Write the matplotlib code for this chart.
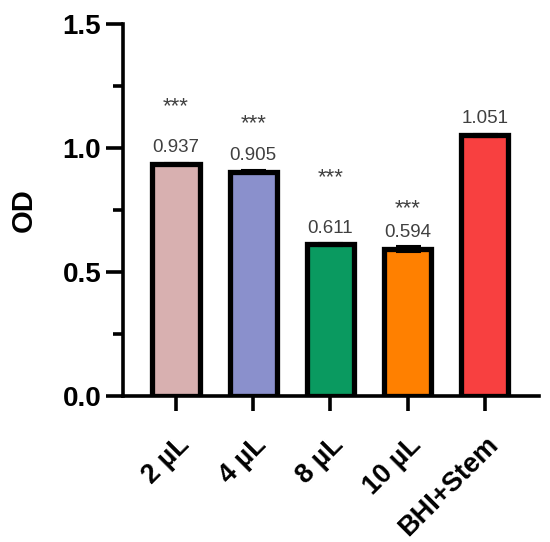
import matplotlib
matplotlib.use("Agg")
import matplotlib.pyplot as plt
from matplotlib.ticker import MultipleLocator

categories = ["2 µL", "4 µL", "8 µL", "10 µL", "BHI+Stem"]
od_values = [0.937, 0.905, 0.611, 0.594, 1.051]
od_errors = [0.004, 0.006, 0.005, 0.012, 0.005]
value_labels = ["0.937", "0.905", "0.611", "0.594", "1.051"]
significance = ["***", "***", "***", "***", ""]
colors = ["#D8B0B0", "#8A90CC", "#0A9A60", "#FF8000", "#F84040"]

# layout of the annotation text (data units)
star_y = [1.165, 1.10, 0.88, 0.755, None]

plt.rcParams['font.family'] = ['Liberation Sans', 'DejaVu Sans']

fig = plt.figure(figsize=(5.5, 5.42), dpi=100)
ax = fig.add_axes([0.2244, 0.2694, 0.98 - 0.2244, 0.9557 - 0.2694])

x = list(range(len(categories)))
ax.bar(x, od_values, width=0.61, color=colors, edgecolor="black", linewidth=3.8, zorder=2)
ax.errorbar(x, od_values, yerr=od_errors, fmt="none", ecolor="black", elinewidth=1.5,
            capsize=9, capthick=1.5, zorder=3)

for xi, v, lab in zip(x, od_values, value_labels):
    ax.text(xi, v + 0.066, lab, ha="center", va="center", fontsize=13.5, color="#404040")
for xi, s, sy in zip(x, significance, star_y):
    if s:
        ax.text(xi, sy, s, ha="center", va="center", fontsize=16, color="#404040")

ax.set_xlim(-0.68, 4.7)
ax.set_ylim(0, 1.5)
ax.yaxis.set_minor_locator(MultipleLocator(0.25))
ax.set_yticks([0, 0.5, 1.0, 1.5])
ax.set_yticklabels(["0.0", "0.5", "1.0", "1.5"])
ax.set_xticks(x)
ax.set_xticklabels(categories, rotation=45, ha="right", rotation_mode="anchor")

for side in ["top", "right"]:
    ax.spines[side].set_visible(False)
for side in ["left", "bottom"]:
    ax.spines[side].set_linewidth(2.6)

ax.tick_params(axis="y", which="major", length=12, width=2.6, labelsize=20, pad=4)
ax.tick_params(axis="y", which="minor", length=7, width=2.6)
ax.tick_params(axis="x", which="major", length=11, width=2.6, labelsize=19.5, pad=15)
for lab in ax.get_xticklabels() + ax.get_yticklabels():
    lab.set_fontweight("bold")

ax.set_ylabel("OD", fontsize=21, fontweight="bold", labelpad=18)

fig.savefig("out.png", dpi=100)
